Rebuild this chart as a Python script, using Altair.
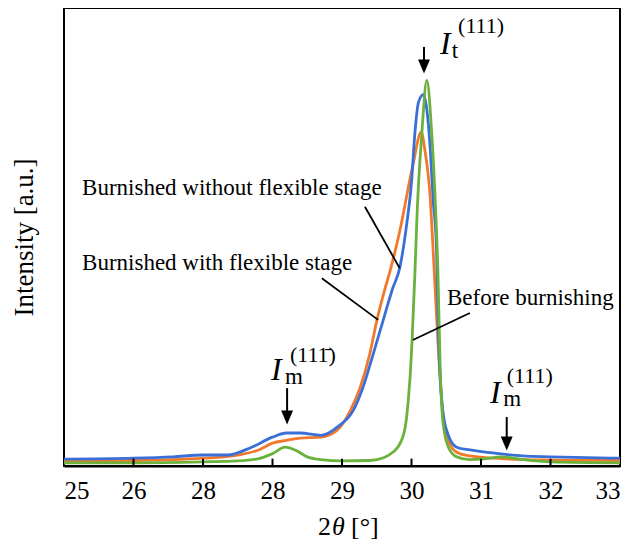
import altair as alt
import pandas as pd

# ---- data (2theta in degrees, intensity in arbitrary units) ----
green_x = [25.0, 26.0, 27.0, 27.5, 27.8, 28.0, 28.18, 28.35, 28.5, 28.7, 29.0, 29.4, 29.6, 29.73,
           29.82, 29.91, 29.96, 29.99, 30.01, 30.05, 30.08, 30.15, 30.22, 30.29, 30.35, 30.38,
           30.41, 30.45, 30.53, 30.65, 30.84, 31.0, 31.3, 31.56, 32.0, 33.0]
green_y = [0.7, 0.7, 0.9, 1.1, 1.6, 2.7, 4.1, 3.3, 2.0, 1.4, 1.1, 1.2, 1.8, 3.0,
           4.5, 8.5, 15.5, 22.0, 28.0, 42.5, 54.9, 72.9, 84.2, 72.9, 54.9, 42.5,
           23.0, 10.0, 4.1, 2.0, 1.4, 1.5, 2.0, 1.5, 0.9, 0.7]

blue_x = [25.0, 26.0, 26.57, 27.0, 27.35, 27.7, 28.0, 28.2, 28.4, 28.7, 28.95, 29.16, 29.3,
          29.45, 29.59, 29.73, 29.83, 29.93, 30.0, 30.05, 30.1, 30.17, 30.22, 30.27, 30.31,
          30.36, 30.39, 30.45, 30.53, 30.65, 30.84, 31.2, 31.6, 32.0, 33.0]
blue_y = [1.5, 1.7, 2.0, 2.4, 2.4, 4.1, 6.3, 7.2, 7.2, 6.7, 8.7, 12.1, 17.1,
          24.5, 31.7, 38.8, 43.2, 52.7, 62.0, 72.9, 79.4, 81.1, 77.9, 69.2, 58.4,
          47.5, 27.3, 12.1, 6.7, 4.1, 3.5, 2.8, 2.2, 2.0, 1.7]

orange_x = [25.0, 26.0, 27.0, 27.5, 27.8, 28.0, 28.2, 28.4, 28.7, 28.93, 29.12, 29.26, 29.4,
            29.5, 29.62, 29.69, 29.83, 30.02, 30.14, 30.19, 30.27, 30.31, 30.38, 30.45, 30.53,
            30.65, 30.84, 31.2, 31.6, 32.0, 33.0]
orange_y = [1.1, 1.2, 1.7, 2.4, 3.5, 5.0, 5.6, 6.1, 6.3, 7.8, 12.1, 17.1, 24.5,
            31.7, 38.8, 42.5, 51.2, 65.7, 72.9, 69.2, 58.4, 47.5, 27.3, 11.7, 5.6,
            3.0, 2.2, 1.7, 1.4, 1.3, 1.2]

series_names = ["Burnished with flexible stage", "Burnished without flexible stage", "Before burnishing"]
series_colors = ["#f2792b", "#3b6fd8", "#6ab23c"]

tick_values = [25, 26, 27, 28, 29, 30, 31, 32, 33]
tick_labels = ["25", "26", "28", "28", "29", "30", "31", "32", "33"]
inner_ticks = [26, 27, 28, 29, 30, 31, 32]

label_text = ["Burnished without flexible stage", "Burnished with flexible stage", "Before burnishing"]
label_x = [25.26, 25.26, 30.51]
label_y = [59.2, 42.8, 35.2]

lead_x = [29.33, 28.71, 30.84]
lead_y = [56.6, 41.0, 33.4]
lead_x2 = [29.83, 29.52, 30.02]
lead_y2 = [43.2, 31.9, 27.5]

arrow_x = [30.18, 28.21, 31.37]
arrow_top = [91.5, 17.0, 10.7]
arrow_bot = [88.2, 11.8, 6.3]
arrow_head = [87.2, 10.6, 4.9]

big_i_x = [30.41, 27.98, 31.13]
big_i_y = [90.0, 18.8, 13.8]
sub_text = ["t", "m", "m"]
sub_x = [30.58, 28.18, 31.32]
sub_y = [89.1, 17.9, 13.1]
sup_text = ["(111)", "(11\u0031\u0304)", "(111)"]
sup_x = [30.67, 28.25, 31.37]
sup_y = [94.5, 22.7, 18.1]

FONT = "'Liberation Serif', 'DejaVu Serif', 'Noto Serif', serif"

# ---- frames ----
rows = []
for name, xs, ys in [(series_names[0], orange_x, orange_y),
                     (series_names[1], blue_x, blue_y),
                     (series_names[2], green_x, green_y)]:
    for i, (a, b) in enumerate(zip(xs, ys)):
        rows.append({"series": name, "x": a, "y": b, "i": i})
lines_df = pd.DataFrame(rows)

label_map = " : ".join(f"datum.value == {v} ? '{t}'" for v, t in zip(tick_values, tick_labels)) + " : datum.label"

xscale = alt.Scale(domain=[25, 33], nice=False, zero=False)
yscale = alt.Scale(domain=[0, 100], nice=False, zero=True)

xaxis = alt.Axis(values=tick_values, labelExpr=label_map, tickSize=0, grid=False,
                 domainColor="black", domainWidth=2, labelFont=FONT, labelFontSize=25,
                 labelColor="black", labelPadding=12, title=None)
yaxis = alt.Axis(labels=False, ticks=False, domain=False, grid=False,
                 title="Intensity [a.u.]", titleFont=FONT, titleFontSize=27,
                 titleFontWeight="normal", titleColor="black", titlePadding=26)

lines = alt.Chart(lines_df).mark_line(strokeWidth=2.8, interpolate="monotone").encode(
    x=alt.X("x:Q", scale=xscale, axis=xaxis),
    y=alt.Y("y:Q", scale=yscale, axis=yaxis),
    color=alt.Color("series:N", scale=alt.Scale(domain=series_names, range=series_colors), legend=None),
    order="i:Q",
)

ticks = alt.Chart(pd.DataFrame({"x": inner_ticks, "y": [0] * len(inner_ticks), "y2": [1.6] * len(inner_ticks)})).mark_rule(
    color="black", strokeWidth=2).encode(x="x:Q", y="y:Q", y2="y2:Q")

leaders = alt.Chart(pd.DataFrame({"x": lead_x, "y": lead_y, "x2": lead_x2, "y2": lead_y2})).mark_rule(
    color="black", strokeWidth=1.8).encode(x="x:Q", y="y:Q", x2="x2:Q", y2="y2:Q")

arrows_df = pd.DataFrame({"x": arrow_x, "top": arrow_top, "bot": arrow_bot, "head": arrow_head})
shafts = alt.Chart(arrows_df).mark_rule(color="black", strokeWidth=2).encode(x="x:Q", y="top:Q", y2="bot:Q")
heads = alt.Chart(arrows_df).mark_point(shape="M-0.85,-1L0.85,-1L0,1Z", filled=True, color="black",
                                         size=196, opacity=1).encode(x="x:Q", y="head:Q")

labels = alt.Chart(pd.DataFrame({"t": label_text, "x": label_x, "y": label_y})).mark_text(
    font=FONT, fontSize=23, align="left", baseline="alphabetic", color="black").encode(
    x="x:Q", y="y:Q", text="t:N")

big_i = alt.Chart(pd.DataFrame({"t": ["I"] * 3, "x": big_i_x, "y": big_i_y})).mark_text(
    font=FONT, fontSize=32, fontStyle="italic", align="left", baseline="alphabetic", color="black").encode(
    x="x:Q", y="y:Q", text="t:N")

subs = alt.Chart(pd.DataFrame({"t": sub_text, "x": sub_x, "y": sub_y})).mark_text(
    font=FONT, fontSize=23, align="left", baseline="alphabetic", color="black").encode(
    x="x:Q", y="y:Q", text="t:N")

sups = alt.Chart(pd.DataFrame({"t": sup_text, "x": sup_x, "y": sup_y})).mark_text(
    font=FONT, fontSize=22, align="left", baseline="alphabetic", color="black").encode(
    x="x:Q", y="y:Q", text="t:N")

xt1 = alt.Chart(pd.DataFrame({"t": ["2"]})).mark_text(font=FONT, fontSize=26, align="left",
    baseline="alphabetic", color="black").encode(x=alt.value(254), y=alt.value(527), text="t:N")
xt2 = alt.Chart(pd.DataFrame({"t": ["\u03b8"]})).mark_text(font=FONT, fontSize=26, fontStyle="italic",
    align="left", baseline="alphabetic", color="black").encode(x=alt.value(268), y=alt.value(527), text="t:N")
xt3 = alt.Chart(pd.DataFrame({"t": ["[\u00b0]"]})).mark_text(font=FONT, fontSize=26, align="left",
    baseline="alphabetic", color="black").encode(x=alt.value(287), y=alt.value(527), text="t:N")

chart = alt.layer(lines, ticks, leaders, shafts, heads, labels, big_i, subs, sups, xt1, xt2, xt3).properties(
    width=556, height=458,
    background="white",
    autosize=alt.AutoSizeParams(type="none"),
    padding={"left": 56, "top": 0, "right": 5, "bottom": 75},
).configure_view(stroke="black", strokeWidth=2)

chart.save("out.html", embed_options={"renderer": "svg", "actions": False})
